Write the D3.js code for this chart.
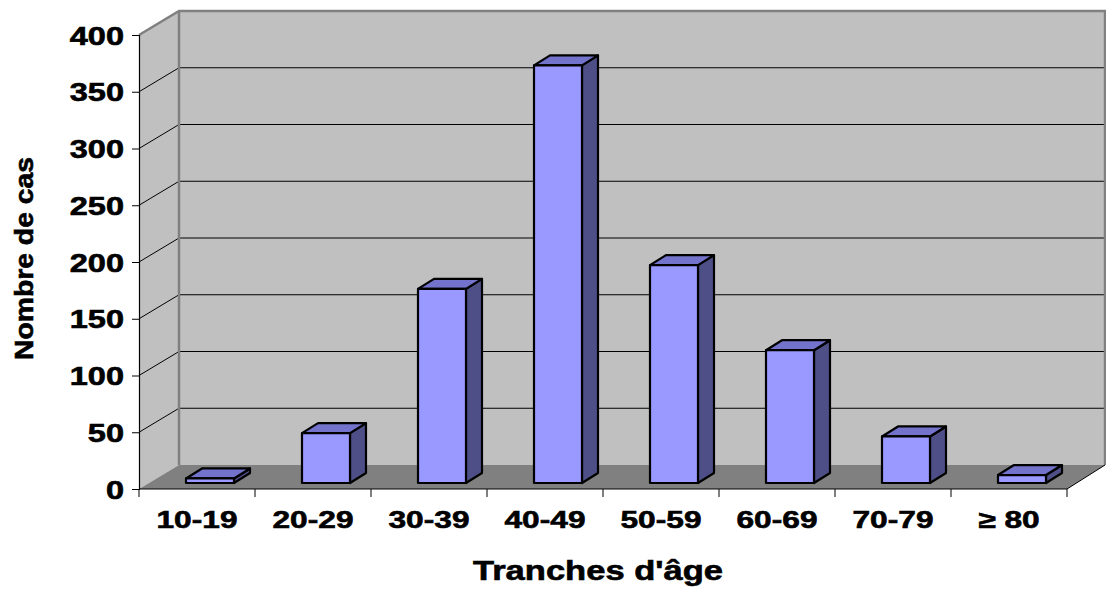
<!DOCTYPE html>
<html><head><meta charset="utf-8">
<script src="https://cdn.jsdelivr.net/npm/d3@7"></script>
<style>
html,body{margin:0;padding:0;background:#fff;}
svg{display:block;font-family:"Liberation Sans",Arial,sans-serif;font-weight:bold;}
svg text{stroke:#000;stroke-width:0.6px;}
</style></head>
<body>
<svg id="chart" width="1106" height="590"></svg>
<script>
const categories = ["10-19","20-29","30-39","40-49","50-59","60-69","70-79","\u2265 80"];
const values = [4, 44, 171, 368, 192, 117, 41, 7];
const yTicks = [0, 50, 100, 150, 200, 250, 300, 350, 400];
const xTitle = "Tranches d'âge";
const yTitle = "Nombre de cas";

const svg = d3.select("#chart");
const pLeft = 139, pRight = 1067, pTop = 35, pBottom = 489, backRight = 1105;
const depth = {dx: 40, dy: -24};
const x = d3.scaleBand().domain(categories).range([pLeft, pRight]).padding(0);
const y = d3.scaleLinear().domain([0, 400]).range([pBottom, pTop]);

// walls
const g = svg.append("g");
const bx0 = pLeft + depth.dx;
g.append("rect").attr("x", bx0).attr("y", y(400) + depth.dy)
  .attr("width", backRight - bx0).attr("height", y(0) - y(400))
  .attr("fill", "#C0C0C0");
g.append("polygon").attr("points", [[pLeft, y(400)], [bx0, y(400) + depth.dy], [bx0, y(0) + depth.dy], [pLeft, y(0)]].join(" "))
  .attr("fill", "#C0C0C0");
g.append("polygon").attr("points", [[pLeft, y(0)], [bx0, y(0) + depth.dy], [backRight, y(0) + depth.dy], [pRight, y(0)]].join(" "))
  .attr("fill", "#808080");

// gridlines
const grid = yTicks.filter(v => v > 0 && v < 400);
g.selectAll("line.gb").data(grid).enter().append("line")
  .attr("x1", bx0).attr("x2", backRight).attr("y1", d => y(d) + depth.dy).attr("y2", d => y(d) + depth.dy)
  .attr("stroke", "#000").attr("stroke-width", 1);
g.selectAll("line.gl").data(grid).enter().append("line")
  .attr("x1", pLeft).attr("x2", bx0).attr("y1", d => y(d)).attr("y2", d => y(d) + depth.dy)
  .attr("stroke", "#000").attr("stroke-width", 1);

// wall edges
g.append("polyline").attr("points", [[pLeft, y(400)], [bx0, y(400) + depth.dy], [backRight, y(400) + depth.dy], [backRight, y(0) + depth.dy]].join(" "))
  .attr("fill", "none").attr("stroke", "#808080").attr("stroke-width", 2.5);
g.append("line").attr("x1", bx0).attr("x2", bx0).attr("y1", y(400) + depth.dy).attr("y2", y(0) + depth.dy)
  .attr("stroke", "#808080").attr("stroke-width", 2.5);
g.append("line").attr("x1", pRight).attr("y1", y(0)).attr("x2", backRight).attr("y2", y(0) + depth.dy)
  .attr("stroke", "#000").attr("stroke-width", 1);

// bars
const fOff = {dx: 10, dy: -6};
const bDep = {dx: 16, dy: -10};
const barW = 48, barOff = 37;
const bars = svg.append("g").attr("stroke", "#000").attr("stroke-width", 2.2).attr("stroke-linejoin", "round");
categories.forEach((c, i) => {
  const v = values[i];
  const x0 = x(c) + barOff + fOff.dx, x1 = x0 + barW;
  const y0 = y(v) + fOff.dy, y1 = y(0) + fOff.dy;
  bars.append("polygon").attr("points", [[x1, y0], [x1 + bDep.dx, y0 + bDep.dy], [x1 + bDep.dx, y1 + bDep.dy], [x1, y1]].join(" "))
    .attr("fill", "#4F4F87");
  bars.append("polygon").attr("points", [[x0, y0], [x0 + bDep.dx, y0 + bDep.dy], [x1 + bDep.dx, y0 + bDep.dy], [x1, y0]].join(" "))
    .attr("fill", "#7373CB");
  bars.append("rect").attr("x", x0).attr("y", y0).attr("width", barW).attr("height", y1 - y0)
    .attr("fill", "#9999FF");
});

// y axis
const yAxis = svg.append("g").attr("transform", `translate(${pLeft},0)`)
  .call(d3.axisLeft(y).tickValues(yTicks).tickSize(7).tickPadding(0));
yAxis.select(".domain").attr("stroke", "#000").attr("stroke-width", 1.2);
yAxis.selectAll(".tick line").attr("stroke", "#000");
yAxis.selectAll(".tick text")
  .attr("font-family", "Liberation Sans, Arial, sans-serif").attr("font-weight", "bold")
  .attr("font-size", 25).attr("fill", "#000").attr("text-anchor", "end")
  .attr("x", -15 / 1.3).attr("dy", null).attr("y", 9)
  .attr("transform", "scale(1.3,1)");

// x axis
const xAxis = svg.append("g").attr("transform", `translate(0,${pBottom})`)
  .call(d3.axisBottom(x).tickSize(0).tickPadding(0));
xAxis.select(".domain").remove();
xAxis.append("line").attr("x1", pLeft).attr("x2", pRight).attr("stroke", "#000").attr("stroke-width", 1.2);
xAxis.selectAll("line.bt").data(categories.map(c => x(c)).concat([pRight])).enter().append("line")
  .attr("class", "bt").attr("x1", d => d).attr("x2", d => d).attr("y1", 0).attr("y2", 8)
  .attr("stroke", "#000");
xAxis.selectAll(".tick").each(function(d) {
  const cx = x(d) + x.bandwidth() / 2;
  d3.select(this).attr("transform", `translate(${cx},0) scale(1.32,1)`);
});
xAxis.selectAll(".tick text")
  .attr("font-family", "Liberation Sans, Arial, sans-serif").attr("font-weight", "bold")
  .attr("font-size", 24).attr("fill", "#000").attr("text-anchor", "middle")
  .attr("y", 39).attr("dy", null);

// titles
svg.append("text").attr("x", 598).attr("y", 580).attr("text-anchor", "middle")
  .attr("font-size", 27).attr("textLength", 250).attr("lengthAdjust", "spacingAndGlyphs")
  .text(xTitle);
svg.append("text").attr("transform", "translate(33,258.5) rotate(-90)").attr("text-anchor", "middle")
  .attr("font-size", 26).attr("textLength", 203).attr("lengthAdjust", "spacingAndGlyphs")
  .text(yTitle);
</script>
</body></html>
